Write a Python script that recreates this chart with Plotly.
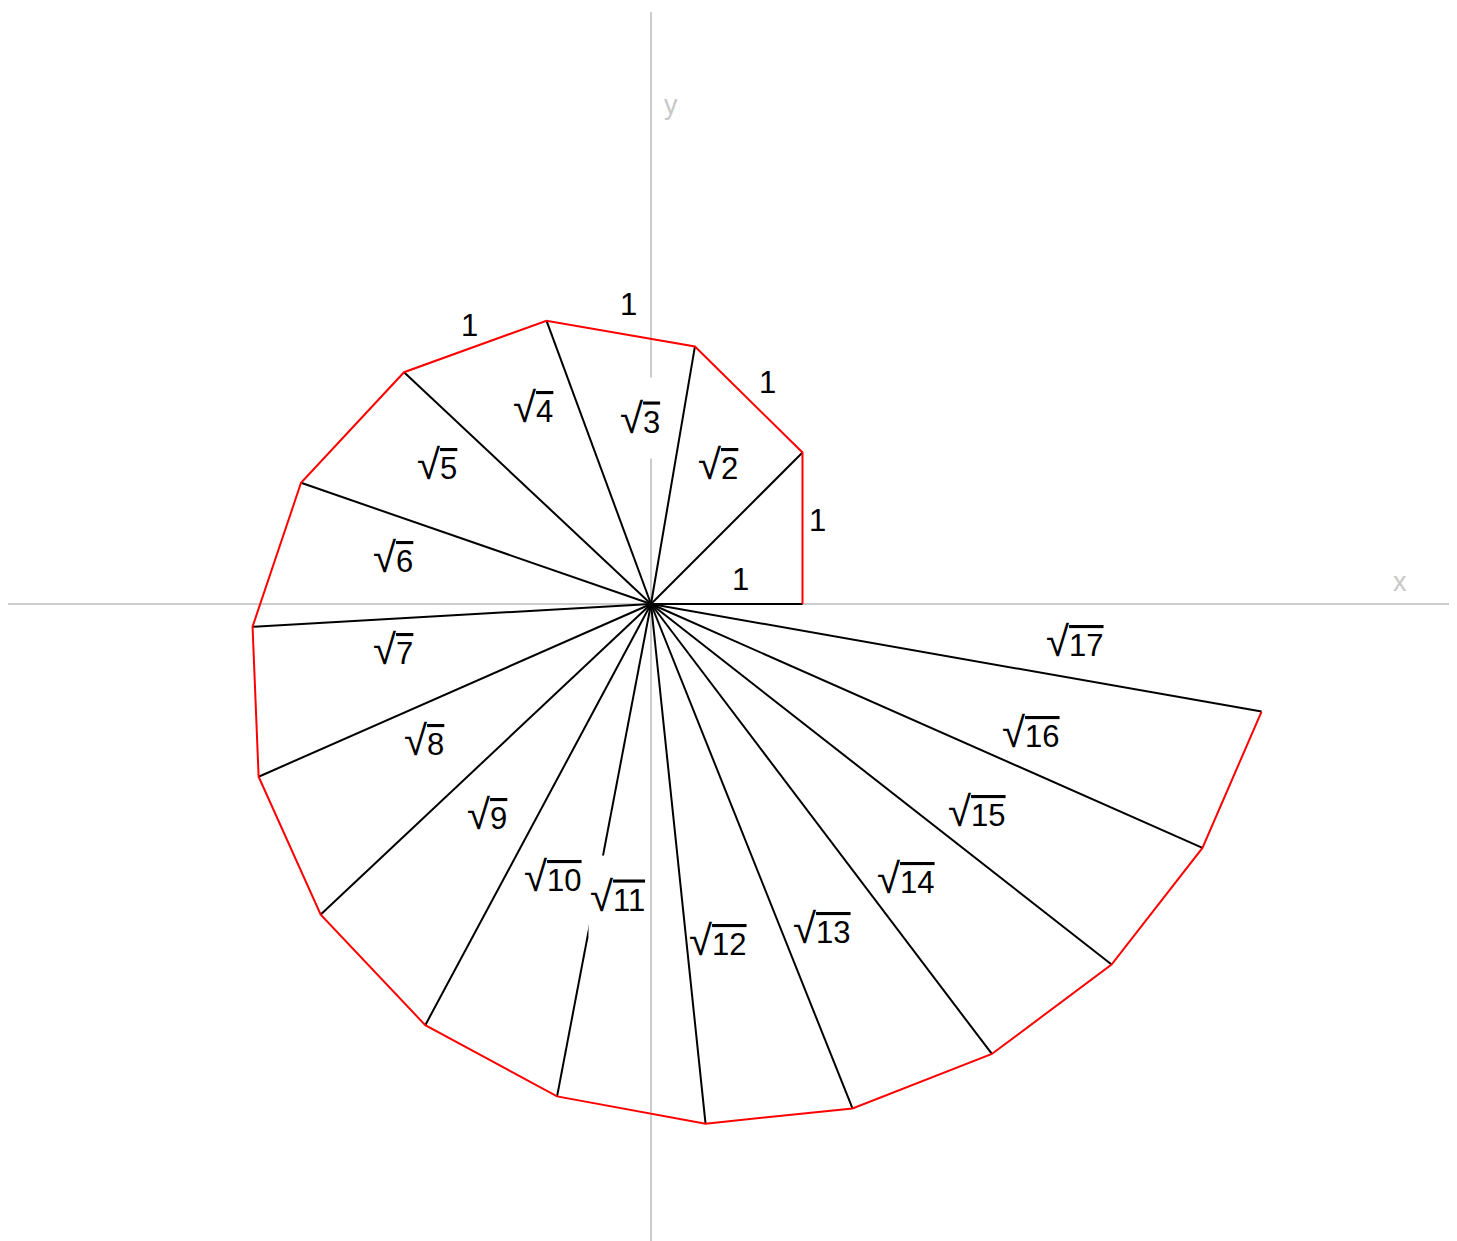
import plotly.graph_objects as go

# Vertices of the spiral (data units)
vx = [1.00, 1.00, 0.29, -0.69, -1.63, -2.31, -2.63, -2.59, -2.18, -1.49, -0.62, 0.36, 1.33, 2.25, 3.04, 3.64, 4.03]
vy = [0.00, 1.00, 1.70, 1.87, 1.53, 0.80, -0.15, -1.14, -2.05, -2.78, -3.25, -3.43, -3.33, -2.97, -2.38, -1.61, -0.71]

# Side labels "1"
one_x = [0.59, 1.10, 0.77, -0.15, -1.20]
one_y = [0.16, 0.55, 1.46, 1.98, 1.84]

# Spoke labels sqrt(n), n = 2..17
root_n = list(range(2, 18))
root_x = [0.44, -0.07, -0.78, -1.41, -1.70, -1.70, -1.50, -1.08, -0.65, -0.22, 0.44, 1.13, 1.68, 2.15, 2.51, 2.80]
root_y = [0.92, 1.23, 1.30, 0.92, 0.31, -0.30, -0.90, -1.39, -1.80, -1.93, -2.22, -2.14, -1.81, -1.37, -0.85, -0.25]
masked = [3, 11]  # labels drawn on an opaque white box

# Plot geometry (page body has an 8px margin)
PAD = 8
W, H = 1457 - PAD, 1241 - PAD
OX, OY, S = 651 - PAD, 604 - PAD, 151.5
xr = [(0 - OX) / S, (W - OX) / S]
yr = [(OY - H) / S, (OY - 0) / S]

fig = go.Figure()

# axes (light grey)
axc = "#cccccc"
fig.add_shape(type="line", x0=(8 - PAD - OX) / S, x1=xr[1], y0=0, y1=0,
              line=dict(color=axc, width=2), layer="below")
fig.add_shape(type="line", x0=0, x1=0, y0=yr[0], y1=(OY - (12 - PAD)) / S,
              line=dict(color=axc, width=2), layer="below")

# spokes
sx, sy = [], []
for x, y in zip(vx, vy):
    sx += [0, x, None]
    sy += [0, y, None]
fig.add_trace(go.Scatter(x=sx, y=sy, mode="lines",
                         line=dict(color="black", width=2), hoverinfo="skip"))
# outer red edges
fig.add_trace(go.Scatter(x=vx, y=vy, mode="lines",
                         line=dict(color="red", width=2), hoverinfo="skip"))

font = dict(family="Liberation Sans, Arial, sans-serif", size=31, color="black")
for x, y in zip(one_x, one_y):
    fig.add_annotation(x=x, y=y, text="1", showarrow=False, font=font)

for n, x, y in zip(root_n, root_x, root_y):
    txt = ('<span style="font-size:42px">√</span>'
           '<span style="text-decoration:overline">%d</span>' % n)
    kw = {}
    if n in masked:
        kw = dict(bgcolor="white", height=78)
    fig.add_annotation(x=x, y=y, text=txt, showarrow=False, font=font, **kw)

gfont = dict(family="Liberation Sans, Arial, sans-serif", size=27, color="#c8c8c8")
fig.add_annotation(x=(1400 - 651) / S, y=(604 - 582) / S, text="x", showarrow=False, font=gfont)
fig.add_annotation(x=(671 - 651) / S, y=(604 - 105) / S, text="y", showarrow=False, font=gfont)

fig.update_xaxes(range=xr, visible=False, fixedrange=True)
fig.update_yaxes(range=yr, visible=False, fixedrange=True)
fig.update_layout(width=W, height=H, margin=dict(l=0, r=0, t=0, b=0),
                  paper_bgcolor="white", plot_bgcolor="white", showlegend=False)

fig.write_html("out.html")
